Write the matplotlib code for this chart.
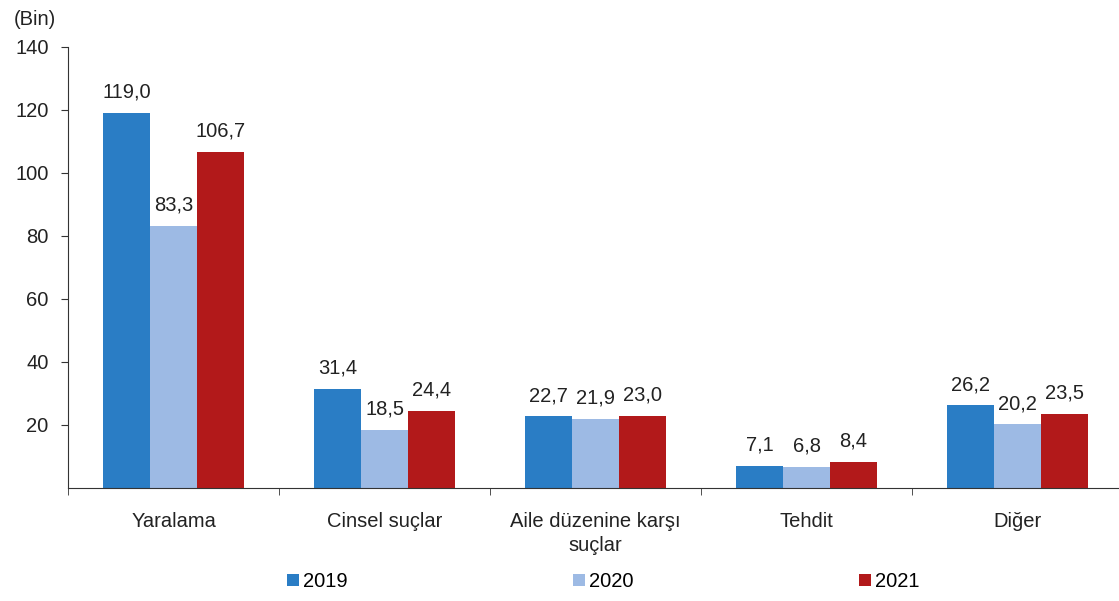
import numpy as np
import matplotlib
matplotlib.use("Agg")
import matplotlib.pyplot as plt

plt.rcParams['font.family'] = ['Liberation Sans', 'DejaVu Sans']

# Data (thousands)
categories = ["Yaralama", "Cinsel suçlar", "Aile düzenine karşı\nsuçlar", "Tehdit", "Diğer"]
years = ["2019", "2020", "2021"]
v2019 = [119.0, 31.4, 22.7, 7.1, 26.2]
v2020 = [83.3, 18.5, 21.9, 6.8, 20.2]
v2021 = [106.7, 24.4, 23.0, 8.4, 23.5]
colors = ["#2A7DC5", "#9DBAE4", "#B2191A"]

fs = 14.5

fig = plt.figure(figsize=(11.19, 6.01), dpi=100)
ax = fig.add_axes([0.0608, 0.188, 0.943, 0.734])

x = np.arange(len(categories))
w = 0.222
for i, (vals, yr) in enumerate(zip([v2019, v2020, v2021], years)):
    pos = x + (i - 1) * w
    ax.bar(pos, vals, width=w, color=colors[i], label=yr)
    for p, v in zip(pos, vals):
        ax.text(p, v + 3.6, f"{v:.1f}".replace(".", ","), ha="center", va="bottom",
                fontsize=fs, color="#222222")

ax.set_xlim(-0.5, len(categories) - 0.5)
ax.set_ylim(0, 140)
ax.set_yticks(range(20, 141, 20))
ax.set_xticks(x)
ax.set_xticklabels(categories, fontsize=fs, color="#222222", linespacing=1.35)
ax.set_xticks(np.arange(-0.5, len(categories), 1), minor=True)
ax.tick_params(axis="x", which="major", length=0, pad=17)
ax.tick_params(axis="x", which="minor", length=5, direction="out", color="#333333")
ax.tick_params(axis="y", length=5, pad=9, labelsize=fs, labelcolor="#222222", color="#333333")

for s in ["top", "right"]:
    ax.spines[s].set_visible(False)
for s in ["left", "bottom"]:
    ax.spines[s].set_color("#333333")

fig.text(0.012, 0.968, "(Bin)", fontsize=fs, color="#222222", va="center")

fig.legend(loc="lower left", bbox_to_anchor=(0.249, 0.003, 0.58, 0.05), mode="expand",
           ncol=3, frameon=False, fontsize=fs, handlelength=0.6, handleheight=0.6,
           handletextpad=0.2, borderaxespad=0)

fig.savefig("out.png", dpi=100)
